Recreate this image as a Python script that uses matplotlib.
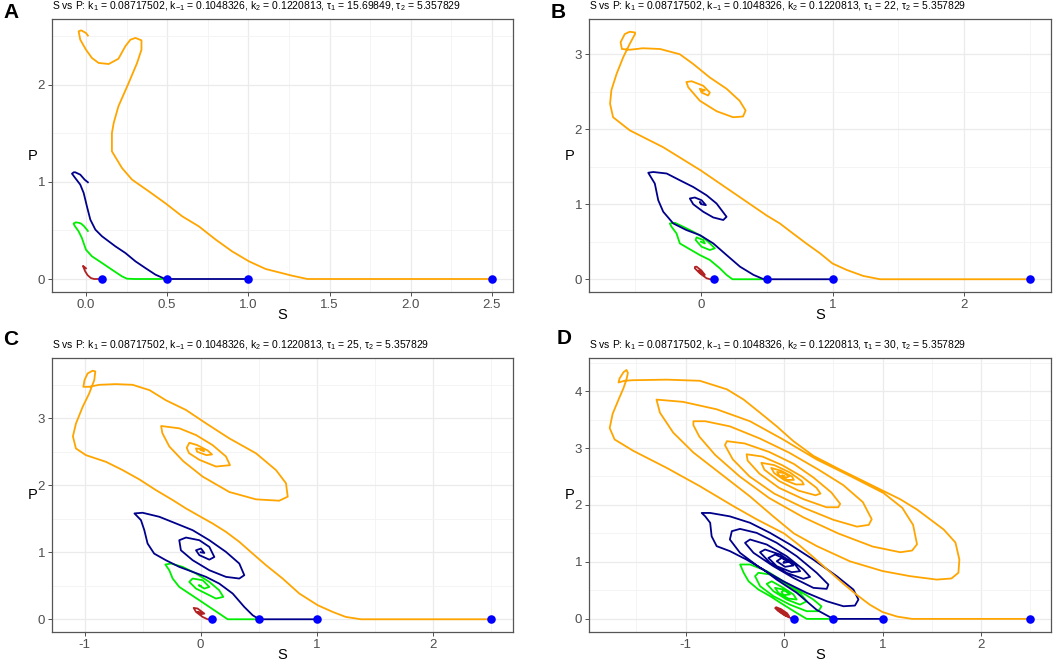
import numpy as np
import matplotlib
matplotlib.use('Agg')
import matplotlib.pyplot as plt
from matplotlib.ticker import FixedLocator

plt.rcParams['font.family'] = ['Liberation Sans', 'DejaVu Sans']
plt.rcParams['mathtext.fontset'] = 'custom'
plt.rcParams['mathtext.rm'] = 'Liberation Sans'
plt.rcParams['mathtext.it'] = 'Liberation Sans:italic'

# Valores iniciales de S (P = 0) y parametros de cada panel
starts = [0.1, 0.5, 1.0, 2.5]
tau1_values = ['15.69849', '22', '25', '30']

# ---- Panel A (tau1 = 15.69849) ----
a_red = [(0.1, 0), (0.05, 0), (0.03, 0.01), (0.01, 0.04), (-0.005, 0.08), (-0.015, 0.12),
         (-0.018, 0.135), (-0.01, 0.125), (0.0, 0.11)]
a_green = [(0.5, 0), (0.3, 0), (0.253, 0.003), (0.222, 0.027), (0.16, 0.096), (0.099, 0.165),
           (0.037, 0.234), (0.0, 0.302), (-0.025, 0.423), (-0.045, 0.491), (-0.07, 0.55),
           (-0.076, 0.572), (-0.062, 0.584), (-0.04, 0.578), (-0.029, 0.57), (-0.012, 0.545),
           (0.0, 0.52), (0.012, 0.495)]
a_navy = [(1.0, 0), (0.5, 0), (0.484, 0.003), (0.428, 0.045), (0.366, 0.113), (0.305, 0.182),
          (0.243, 0.268), (0.181, 0.337), (0.099, 0.44), (0.058, 0.509), (0.027, 0.612),
          (0.006, 0.749), (-0.014, 0.887), (-0.035, 0.973), (-0.066, 1.041), (-0.086, 1.086),
          (-0.075, 1.1), (-0.066, 1.10), (-0.035, 1.076), (-0.008, 1.024), (0.012, 0.997)]
a_orange = [(2.5, 0), (1.364, 0), (1.27, 0.034), (1.107, 0.103), (1.004, 0.182), (0.90, 0.285),
            (0.80, 0.405), (0.695, 0.543), (0.593, 0.646), (0.49, 0.78), (0.387, 0.904),
            (0.284, 1.024), (0.222, 1.144), (0.16, 1.316), (0.16, 1.505), (0.171, 1.608),
            (0.2, 1.78), (0.263, 2.02), (0.315, 2.227), (0.342, 2.364), (0.342, 2.46),
            (0.305, 2.485), (0.274, 2.467), (0.243, 2.40), (0.20, 2.27), (0.14, 2.216),
            (0.078, 2.227), (0.037, 2.278), (0.0, 2.364), (-0.035, 2.467), (-0.045, 2.553),
            (-0.029, 2.563), (0.0, 2.536), (0.012, 2.509)]

# ---- Panel B (tau1 = 22) ----
b_red = [(0.1, 0), (0.07, 0), (0.043, 0.013), (-0.008, 0.08), (-0.046, 0.146), (-0.045, 0.165),
         (-0.033, 0.168), (0.005, 0.115), (0.03, 0.058), (0.02, 0.06), (-0.008, 0.089),
         (-0.02, 0.115), (-0.01, 0.105), (0.0, 0.1)]
b_green = [(0.5, 0), (0.24, 0), (0.195, 0.058), (0.144, 0.146), (0.068, 0.257), (-0.008, 0.323),
           (-0.084, 0.40), (-0.16, 0.478), (-0.185, 0.611), (-0.223, 0.70), (-0.236, 0.744),
           (-0.198, 0.753), (-0.134, 0.70), (-0.058, 0.634), (0.018, 0.558), (0.081, 0.456),
           (0.106, 0.412), (0.068, 0.39), (0.005, 0.434), (-0.04, 0.523), (-0.033, 0.558),
           (0.018, 0.523), (0.03, 0.478), (0.0, 0.5)]
b_navy = [(1.0, 0), (0.5, 0), (0.474, 0.003), (0.40, 0.058), (0.297, 0.168), (0.195, 0.323),
          (0.094, 0.478), (-0.008, 0.589), (-0.11, 0.656), (-0.21, 0.744), (-0.286, 0.90),
          (-0.324, 1.054), (-0.35, 1.276), (-0.40, 1.42), (-0.362, 1.43), (-0.26, 1.41),
          (-0.16, 1.32), (-0.058, 1.23), (0.043, 1.12), (0.119, 1.01), (0.195, 0.833),
          (0.17, 0.79), (0.094, 0.824), (0.018, 0.90), (-0.058, 1.0), (-0.084, 1.077),
          (-0.046, 1.09), (0.005, 1.054), (0.038, 0.988), (0.005, 1.0), (-0.008, 1.03), (0.0, 1.01)]
b_orange = [(2.5, 0), (1.361, 0), (1.234, 0.044), (1.108, 0.124), (1.0, 0.21), (0.905, 0.346),
            (0.80, 0.478), (0.70, 0.61), (0.60, 0.744), (0.50, 0.85), (0.25, 1.15), (0.0, 1.45),
            (-0.286, 1.76), (-0.54, 1.985), (-0.667, 2.16), (-0.69, 2.34), (-0.68, 2.52),
            (-0.64, 2.74), (-0.59, 2.96), (-0.54, 3.14), (-0.50, 3.27), (-0.50, 3.29),
            (-0.54, 3.30), (-0.578, 3.27), (-0.61, 3.16), (-0.60, 3.07), (-0.54, 3.06),
            (-0.44, 3.08), (-0.31, 3.07), (-0.16, 3.0), (-0.058, 2.87), (0.068, 2.69),
            (0.195, 2.54), (0.294, 2.38), (0.34, 2.25), (0.32, 2.17), (0.245, 2.16),
            (0.12, 2.24), (-0.008, 2.38), (-0.096, 2.56), (-0.11, 2.63), (-0.07, 2.64),
            (0.018, 2.58), (0.068, 2.49), (0.055, 2.45), (0.005, 2.49), (-0.008, 2.54),
            (0.03, 2.52), (0.013, 2.51)]

# ---- Panel C (tau1 = 25) ----
c_red = [(0.1, 0), (0.06, 0), (0.017, 0.035), (-0.04, 0.11), (-0.06, 0.17), (-0.026, 0.16),
         (0.032, 0.085), (0.003, 0.075), (-0.026, 0.11), (0.0, 0.1)]
c_green = [(0.5, 0), (0.233, 0), (0.16, 0.085), (0.075, 0.184), (-0.011, 0.284), (-0.098, 0.384),
           (-0.184, 0.483), (-0.241, 0.608), (-0.27, 0.732), (-0.304, 0.817), (-0.255, 0.832),
           (-0.155, 0.782), (-0.04, 0.683), (0.075, 0.558), (0.16, 0.433), (0.195, 0.334),
           (0.132, 0.309), (0.046, 0.384), (-0.04, 0.458), (-0.098, 0.558), (-0.069, 0.608),
           (0.017, 0.583), (0.075, 0.483), (0.032, 0.458), (-0.017, 0.508), (0.0, 0.5)]
c_navy = [(1.0, 0), (0.505, 0), (0.448, 0.06), (0.376, 0.184), (0.276, 0.384), (0.16, 0.533),
          (0.046, 0.633), (-0.069, 0.708), (-0.184, 0.782), (-0.30, 0.882), (-0.40, 0.98),
          (-0.457, 1.131), (-0.485, 1.33), (-0.514, 1.48), (-0.57, 1.58), (-0.50, 1.59),
          (-0.356, 1.53), (-0.212, 1.43), (-0.069, 1.33), (0.075, 1.18), (0.218, 1.006),
          (0.333, 0.832), (0.376, 0.658), (0.333, 0.608), (0.218, 0.633), (0.075, 0.732),
          (-0.069, 0.882), (-0.17, 1.03), (-0.184, 1.18), (-0.126, 1.22), (-0.011, 1.18),
          (0.075, 1.08), (0.118, 0.93), (0.075, 0.89), (-0.011, 0.957), (-0.04, 1.03),
          (0.003, 1.056), (0.032, 0.99), (0.0, 1.0)]
c_orange = [(2.5, 0), (1.381, 0), (1.25, 0.035), (1.137, 0.11), (1.008, 0.21), (0.85, 0.384),
            (0.706, 0.608), (0.563, 0.807), (0.448, 0.98), (0.333, 1.156), (0.218, 1.305),
            (0.103, 1.43), (0.0, 1.53), (-0.126, 1.654), (-0.24, 1.779), (-0.385, 1.928),
            (-0.528, 2.088), (-0.672, 2.227), (-0.815, 2.35), (-0.988, 2.45), (-1.074, 2.55),
            (-1.10, 2.73), (-1.074, 2.92), (-1.016, 3.17), (-0.96, 3.37), (-0.916, 3.57),
            (-0.907, 3.70), (-0.93, 3.71), (-0.973, 3.67), (-1.0, 3.57), (-1.01, 3.47),
            (-0.96, 3.47), (-0.873, 3.50), (-0.73, 3.51), (-0.586, 3.50), (-0.44, 3.42),
            (-0.30, 3.27), (-0.126, 3.124), (0.046, 2.925), (0.247, 2.70), (0.477, 2.477),
            (0.649, 2.227), (0.735, 2.03), (0.75, 1.83), (0.677, 1.77), (0.477, 1.79),
            (0.247, 1.90), (0.017, 2.13), (-0.15, 2.36), (-0.27, 2.58), (-0.33, 2.78),
            (-0.34, 2.885), (-0.183, 2.85), (-0.04, 2.75), (0.103, 2.6), (0.218, 2.43),
            (0.253, 2.30), (0.132, 2.28), (-0.011, 2.38), (-0.1, 2.48), (-0.12, 2.56),
            (-0.097, 2.635), (-0.03, 2.6), (0.06, 2.52), (0.098, 2.46), (0.05, 2.45),
            (-0.03, 2.5), (-0.04, 2.55), (0.01, 2.54), (0.03, 2.51), (0.0, 2.526)]

# ---- Panel D (tau1 = 30) ----
d_red = [(0.1, 0), (0.06, 0.02), (0.0, 0.07), (-0.06, 0.14), (-0.09, 0.19), (-0.08, 0.205),
         (-0.03, 0.17), (0.03, 0.1), (0.05, 0.05), (0.03, 0.045), (-0.02, 0.1), (-0.065, 0.16),
         (-0.07, 0.18), (-0.04, 0.16), (0.01, 0.1), (0.03, 0.07), (0.0, 0.085), (-0.04, 0.13),
         (-0.02, 0.12), (0.0, 0.1)]
d_green = [(0.5, 0), (0.23, 0), (0.128, 0.105), (-0.007, 0.25), (-0.142, 0.40), (-0.26, 0.515),
           (-0.36, 0.66), (-0.41, 0.81), (-0.446, 0.955), (-0.345, 0.955), (-0.176, 0.84),
           (-0.007, 0.66), (0.162, 0.486), (0.297, 0.34), (0.38, 0.22), (0.348, 0.135),
           (0.23, 0.135), (0.06, 0.25), (-0.108, 0.40), (-0.243, 0.574), (-0.294, 0.75),
           (-0.26, 0.81), (-0.142, 0.78), (0.027, 0.60), (0.162, 0.457), (0.23, 0.31),
           (0.162, 0.25), (0.027, 0.34), (-0.108, 0.486), (-0.176, 0.615), (-0.125, 0.66),
           (-0.007, 0.545), (0.095, 0.43), (0.128, 0.34), (0.044, 0.357), (-0.057, 0.457),
           (-0.091, 0.545), (-0.007, 0.515), (0.06, 0.43), (-0.007, 0.416), (-0.024, 0.475),
           (0.0, 0.5)]
d_navy = [(1.0, 0), (0.5, 0), (0.33, 0.16), (0.13, 0.457), (-0.075, 0.69), (-0.21, 0.867),
          (-0.38, 1.04), (-0.55, 1.19), (-0.684, 1.277), (-0.735, 1.45), (-0.75, 1.687),
          (-0.80, 1.80), (-0.836, 1.86), (-0.75, 1.86), (-0.55, 1.80), (-0.345, 1.687),
          (-0.142, 1.51), (0.061, 1.306), (0.298, 1.04), (0.535, 0.75), (0.704, 0.515),
          (0.755, 0.34), (0.72, 0.234), (0.603, 0.222), (0.433, 0.31), (0.23, 0.457),
          (-0.007, 0.66), (-0.244, 0.896), (-0.447, 1.16), (-0.55, 1.394), (-0.53, 1.54),
          (-0.447, 1.58), (-0.278, 1.51), (-0.074, 1.335), (0.129, 1.10), (0.332, 0.808),
          (0.45, 0.603), (0.433, 0.527), (0.298, 0.545), (0.095, 0.72), (-0.108, 0.925),
          (-0.31, 1.16), (-0.396, 1.335), (-0.345, 1.394), (-0.176, 1.306), (0.027, 1.10),
          (0.196, 0.867), (0.264, 0.738), (0.196, 0.703), (0.027, 0.808), (-0.142, 0.984),
          (-0.244, 1.17), (-0.193, 1.218), (-0.04, 1.13), (0.112, 0.955), (0.163, 0.837),
          (0.078, 0.82), (-0.074, 0.925), (-0.159, 1.07), (-0.091, 1.13), (0.027, 1.04),
          (0.095, 0.937), (0.01, 0.914), (-0.074, 1.013), (-0.024, 1.07), (0.044, 1.0),
          (-0.007, 0.984), (0.0, 1.0)]
d_orange = [(2.5, 0), (1.3, 0), (1.15, 0.04), (1.0, 0.12), (0.87, 0.25), (0.74, 0.42), (0.6, 0.62),
            (0.45, 0.85), (0.3, 1.08), (0.15, 1.3), (0.0, 1.5), (-0.28, 1.75), (-0.515, 1.98),
            (-0.855, 2.33), (-1.19, 2.65), (-1.53, 2.95), (-1.72, 3.15), (-1.77, 3.35),
            (-1.74, 3.6), (-1.68, 3.85), (-1.63, 4.05), (-1.6, 4.2), (-1.585, 4.32), (-1.6, 4.37),
            (-1.63, 4.33), (-1.67, 4.22), (-1.68, 4.15), (-1.62, 4.18), (-1.536, 4.19),
            (-1.19, 4.2), (-0.855, 4.18), (-0.58, 4.03), (-0.41, 3.85), (-0.244, 3.62),
            (-0.074, 3.38), (0.095, 3.12), (0.30, 2.86), (0.57, 2.62), (0.84, 2.39), (1.18, 2.10),
            (1.35, 1.92), (1.62, 1.57), (1.74, 1.34), (1.78, 1.04), (1.77, 0.81), (1.70, 0.71),
            (1.55, 0.69), (1.28, 0.75), (1.0, 0.84), (0.67, 1.01), (0.33, 1.28), (0.1, 1.5),
            (-0.11, 1.8), (-0.346, 2.15), (-0.615, 2.51), (-0.92, 2.92), (-1.125, 3.27),
            (-1.26, 3.62), (-1.295, 3.85),
            (-1.025, 3.81), (-0.685, 3.68), (-0.346, 3.47), (-0.01, 3.15), (0.33, 2.80),
            (0.67, 2.51), (1.01, 2.21), (1.2, 1.95), (1.31, 1.65), (1.35, 1.31), (1.30, 1.2),
            (1.18, 1.17), (0.9, 1.27), (0.55, 1.5), (0.2, 1.78), (-0.15, 2.12), (-0.45, 2.5),
            (-0.7, 2.88), (-0.86, 3.2), (-0.92, 3.4), (-0.92, 3.47),
            (-0.8, 3.47), (-0.55, 3.38), (-0.25, 3.17), (0.05, 2.92), (0.35, 2.62), (0.6, 2.35),
            (0.8, 2.05), (0.89, 1.75), (0.86, 1.65), (0.74, 1.62), (0.5, 1.74), (0.2, 1.95),
            (-0.1, 2.2), (-0.35, 2.5), (-0.52, 2.8), (-0.6, 3.05), (-0.58, 3.12),
            (-0.4, 3.08), (-0.15, 2.93), (0.1, 2.72), (0.3, 2.48), (0.48, 2.22), (0.57, 2.02),
            (0.55, 1.96), (0.43, 1.96), (0.2, 2.1), (-0.05, 2.3), (-0.25, 2.55), (-0.37, 2.78),
            (-0.38, 2.89),
            (-0.22, 2.85), (-0.02, 2.7), (0.18, 2.5), (0.33, 2.3), (0.37, 2.2), (0.32, 2.17),
            (0.15, 2.25), (-0.05, 2.42), (-0.2, 2.62), (-0.23, 2.74),
            (-0.1, 2.7), (0.06, 2.57), (0.18, 2.42), (0.2, 2.36), (0.12, 2.36), (0.0, 2.44),
            (-0.1, 2.56), (-0.13, 2.65),
            (-0.03, 2.6), (0.08, 2.5), (0.1, 2.44), (0.03, 2.44), (-0.05, 2.52), (-0.07, 2.58),
            (0.0, 2.56), (0.05, 2.5), (0.02, 2.48), (-0.02, 2.52), (0.0, 2.51)]

COLORS = {'red': '#B22222', 'green': '#00EE00', 'navy': '#00008B', 'orange': '#FFA500'}

W, H = 1059, 663
fig = plt.figure(figsize=(W / 100, H / 100), dpi=100)


def panel(box, letter, letter_xy, tau1, curves, xlim, ylim, xticks, xlabels, yticks, xminor, yminor):
    l, t, r, b = box
    ax = fig.add_axes([l / W, 1 - b / H, (r - l) / W, (b - t) / H])
    for name in ['red', 'green', 'navy', 'orange']:
        pts = np.array(curves[name])
        ax.plot(pts[:, 0], pts[:, 1], color=COLORS[name], lw=1.3, solid_joinstyle='round', zorder=3)
    ax.scatter(starts, np.zeros(len(starts)), s=38, color='#0000FF', zorder=5, linewidths=0)
    ax.set_xlim(xlim)
    ax.set_ylim(ylim)
    ax.set_xticks(xticks)
    ax.set_xticklabels(xlabels)
    ax.set_yticks(yticks)
    ax.xaxis.set_minor_locator(FixedLocator(xminor))
    ax.yaxis.set_minor_locator(FixedLocator(yminor))
    ax.grid(True, which='major', color='#EBEBEB', lw=0.9, zorder=0)
    ax.grid(True, which='minor', color='#F3F3F3', lw=0.6, zorder=0)
    ax.set_axisbelow(True)
    ax.tick_params(which='major', length=3, width=0.6, color='#333333', labelcolor='#4D4D4D',
                   labelsize=9.5, pad=2)
    ax.tick_params(which='minor', length=0)
    for s in ax.spines.values():
        s.set_color('#555555')
        s.set_linewidth(0.9)
    ax.set_xlabel('S', fontsize=10.5)
    ax.set_ylabel('P', fontsize=10.5, rotation=0, va='center', ha='center')
    ax.xaxis.set_label_coords(0.5, -0.06)
    ax.yaxis.set_label_coords(-0.041, 0.5)
    title = ('S vs P: $\\mathrm{k}_1$ = 0.08717502, $\\mathrm{k}_{-1}$ = 0.1048326, '
             '$\\mathrm{k}_2$ = 0.1220813, $\\mathrm{\\tau}_1$ = ' + tau1 +
             ', $\\mathrm{\\tau}_2$ = 5.357829')
    fig.text(l / W, 1 - (t - 12.5) / H, title, fontsize=7.5, ha='left', va='center', color='black')
    fig.text(letter_xy[0] / W, 1 - letter_xy[1] / H, letter, fontsize=15, weight='bold',
             ha='left', va='center')
    return ax


panel((52, 19, 513, 292), 'A', (3, 13), tau1_values[0],
      {'red': a_red, 'green': a_green, 'navy': a_navy, 'orange': a_orange},
      (-0.209, 2.63), (-0.134, 2.68), [0, 0.5, 1, 1.5, 2, 2.5],
      ['0.0', '0.5', '1.0', '1.5', '2.0', '2.5'], [0, 1, 2],
      [0.25, 0.75, 1.25, 1.75, 2.25], [0.5, 1.5, 2.5])
panel((589, 19, 1051, 292), 'B', (551, 13), tau1_values[1],
      {'red': b_red, 'green': b_green, 'navy': b_navy, 'orange': b_orange},
      (-0.85, 2.66), (-0.17, 3.47), [0, 1, 2], ['0', '1', '2'], [0, 1, 2, 3],
      [-0.5, 0.5, 1.5, 2.5], [0.5, 1.5, 2.5])
panel((52, 358, 513, 632), 'C', (3, 340), tau1_values[2],
      {'red': c_red, 'green': c_green, 'navy': c_navy, 'orange': c_orange},
      (-1.28, 2.69), (-0.19, 3.9), [-1, 0, 1, 2], ['-1', '0', '1', '2'], [0, 1, 2, 3],
      [-0.5, 0.5, 1.5, 2.5], [0.5, 1.5, 2.5, 3.5])
panel((589, 358, 1051, 632), 'D', (557, 338), tau1_values[3],
      {'red': d_red, 'green': d_green, 'navy': d_navy, 'orange': d_orange},
      (-1.98, 2.71), (-0.23, 4.58), [-1, 0, 1, 2], ['-1', '0', '1', '2'], [0, 1, 2, 3, 4],
      [-1.5, -0.5, 0.5, 1.5, 2.5], [0.5, 1.5, 2.5, 3.5, 4.5])

fig.savefig('out.png', dpi=100)
